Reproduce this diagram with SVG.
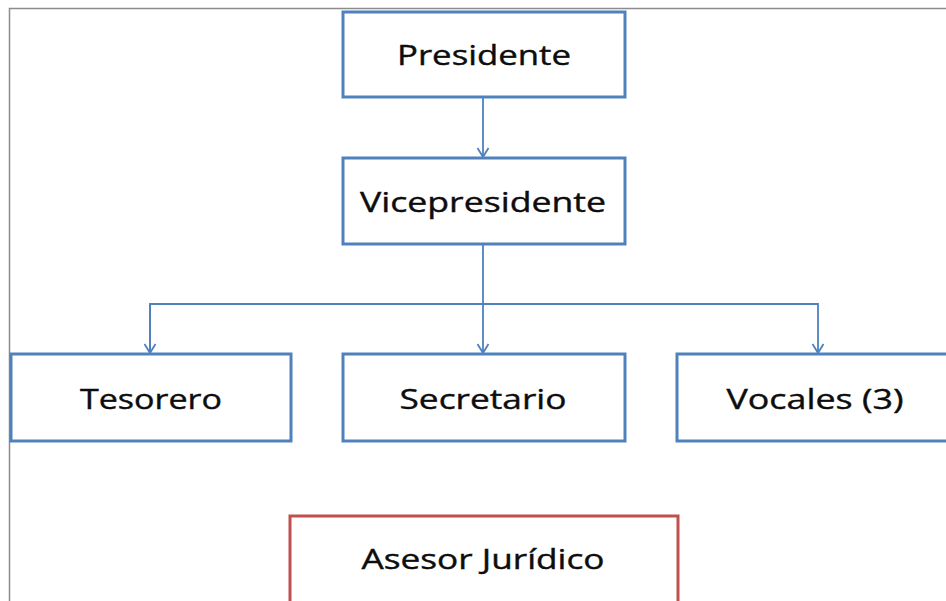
<svg xmlns="http://www.w3.org/2000/svg" width="946" height="601" viewBox="0 0 946 601">
<defs>
<style>
.box{fill:#fff;stroke:#4F81BD;stroke-width:3}
.red{fill:#fff;stroke:#C0504D;stroke-width:3}
.lbl{font-family:"Open Sans","Liberation Sans",sans-serif;font-size:28px;fill:#0d0d0d;stroke:#0d0d0d;stroke-width:0.4;text-anchor:middle}
.con{fill:none;stroke:#4F81BD;stroke-width:1.8}
</style>
<marker id="arr" markerWidth="14" markerHeight="14" refX="12" refY="7" orient="auto" markerUnits="userSpaceOnUse">
<path d="M3,1.5 L12,7 L3,12.5" fill="none" stroke="#4F81BD" stroke-width="1.8"/>
</marker>
</defs>
<rect width="946" height="601" fill="#fff"/>
<path d="M9.5,601 V8.5 H946" fill="none" stroke="#8c8c8c" stroke-width="1.5"/>
<g id="connectors">
<path class="con" d="M483,97 V157" marker-end="url(#arr)"/>
<path class="con" d="M483,244 V353" marker-end="url(#arr)"/>
<path class="con" d="M150,353 V304 H818 V353" marker-end="url(#arr)"/>
<path class="con" d="M150,304 V353" marker-end="url(#arr)"/>
</g>
<g id="presidente"><rect class="box" x="343" y="12" width="282" height="85"/><text class="lbl" x="484" y="65" textLength="174" lengthAdjust="spacingAndGlyphs">Presidente</text></g>
<g id="vicepresidente"><rect class="box" x="343" y="158" width="282" height="86"/><text class="lbl" x="483" y="212" textLength="246" lengthAdjust="spacingAndGlyphs">Vicepresidente</text></g>
<g id="tesorero"><rect class="box" x="11" y="354" width="280" height="87"/><text class="lbl" x="151" y="409" textLength="142" lengthAdjust="spacingAndGlyphs">Tesorero</text></g>
<g id="secretario"><rect class="box" x="343" y="354" width="282" height="87"/><text class="lbl" x="483" y="409" textLength="167" lengthAdjust="spacingAndGlyphs">Secretario</text></g>
<g id="vocales"><rect class="box" x="677" y="354" width="280" height="87"/><text class="lbl" x="815" y="409" textLength="177" lengthAdjust="spacingAndGlyphs">Vocales (3)</text></g>
<g id="asesor"><rect class="red" x="290" y="516" width="388" height="100"/><text class="lbl" x="483" y="569" textLength="243" lengthAdjust="spacingAndGlyphs">Asesor Jurídico</text></g>
</svg>
